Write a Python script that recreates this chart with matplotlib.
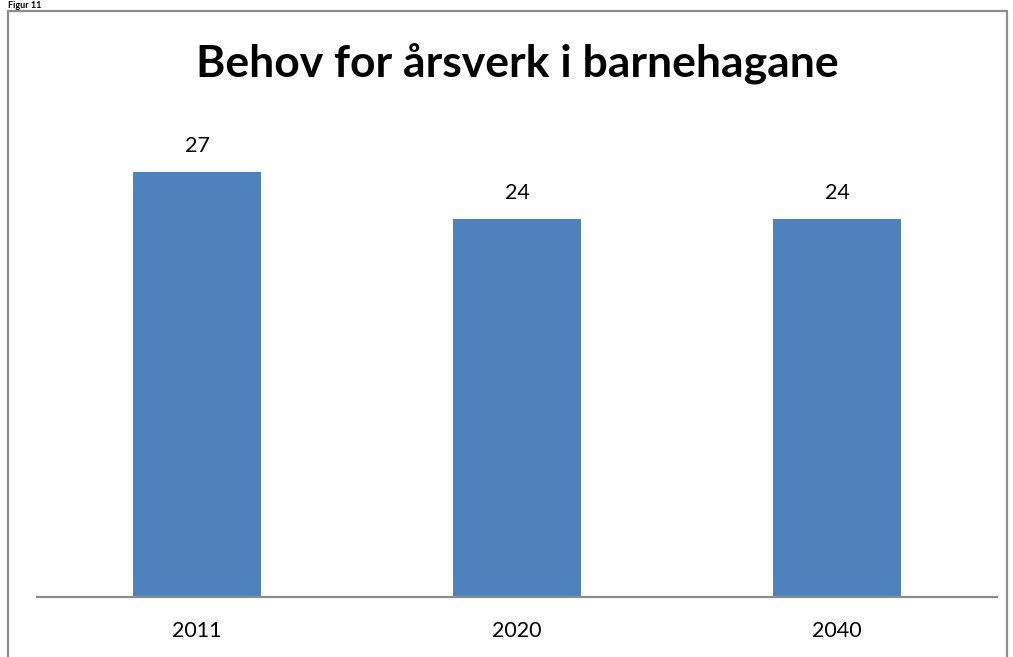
import matplotlib.pyplot as plt
from matplotlib.patches import Rectangle

plt.rcParams['font.family'] = ['Lato', 'DejaVu Sans']

years = ['2011', '2020', '2040']
values = [27, 24, 24]

W, H = 1013, 657
fig = plt.figure(figsize=(W / 100, H / 100), dpi=100)
fig.patch.set_facecolor('white')

# outer chart frame (bottom runs off the page)
frame = Rectangle((8 / W, -0.1), 999 / W, 1.1 - 11 / H, transform=fig.transFigure,
                  fill=False, edgecolor='#8c8c8c', linewidth=1.6, clip_on=False)
fig.patches.append(frame)

# caption above the frame (mostly off the page in the source)
fig.text(8 / W, 1 - 1 / H, 'Figur 11', fontsize=6.5, fontweight='bold', va='top', ha='left')

ax = fig.add_axes([37 / W, 60 / H, 960 / W, 472 / H])
x = range(len(years))
bars = ax.bar(x, values, width=0.4, color='#4f81bd')
for b, v in zip(bars, values):
    ax.text(b.get_x() + b.get_width() / 2, v + 1.65, str(v), ha='center', va='center', fontsize=15.5)

ax.set_xlim(-0.5, 2.5)
ax.set_ylim(0, 30)
ax.set_xticks(list(x))
ax.set_xticklabels(years, fontsize=15.5)
ax.tick_params(axis='x', length=0, pad=17)
ax.set_yticks([])
for s in ['top', 'right', 'left']:
    ax.spines[s].set_visible(False)
ax.spines['bottom'].set_color('#8c8c8c')
ax.spines['bottom'].set_linewidth(1.6)

fig.text(517 / W, 1 - 63 / H, 'Behov for årsverk i barnehagane', fontsize=32,
         fontweight='bold', ha='center', va='center')

fig.savefig('out.png', dpi=100)
